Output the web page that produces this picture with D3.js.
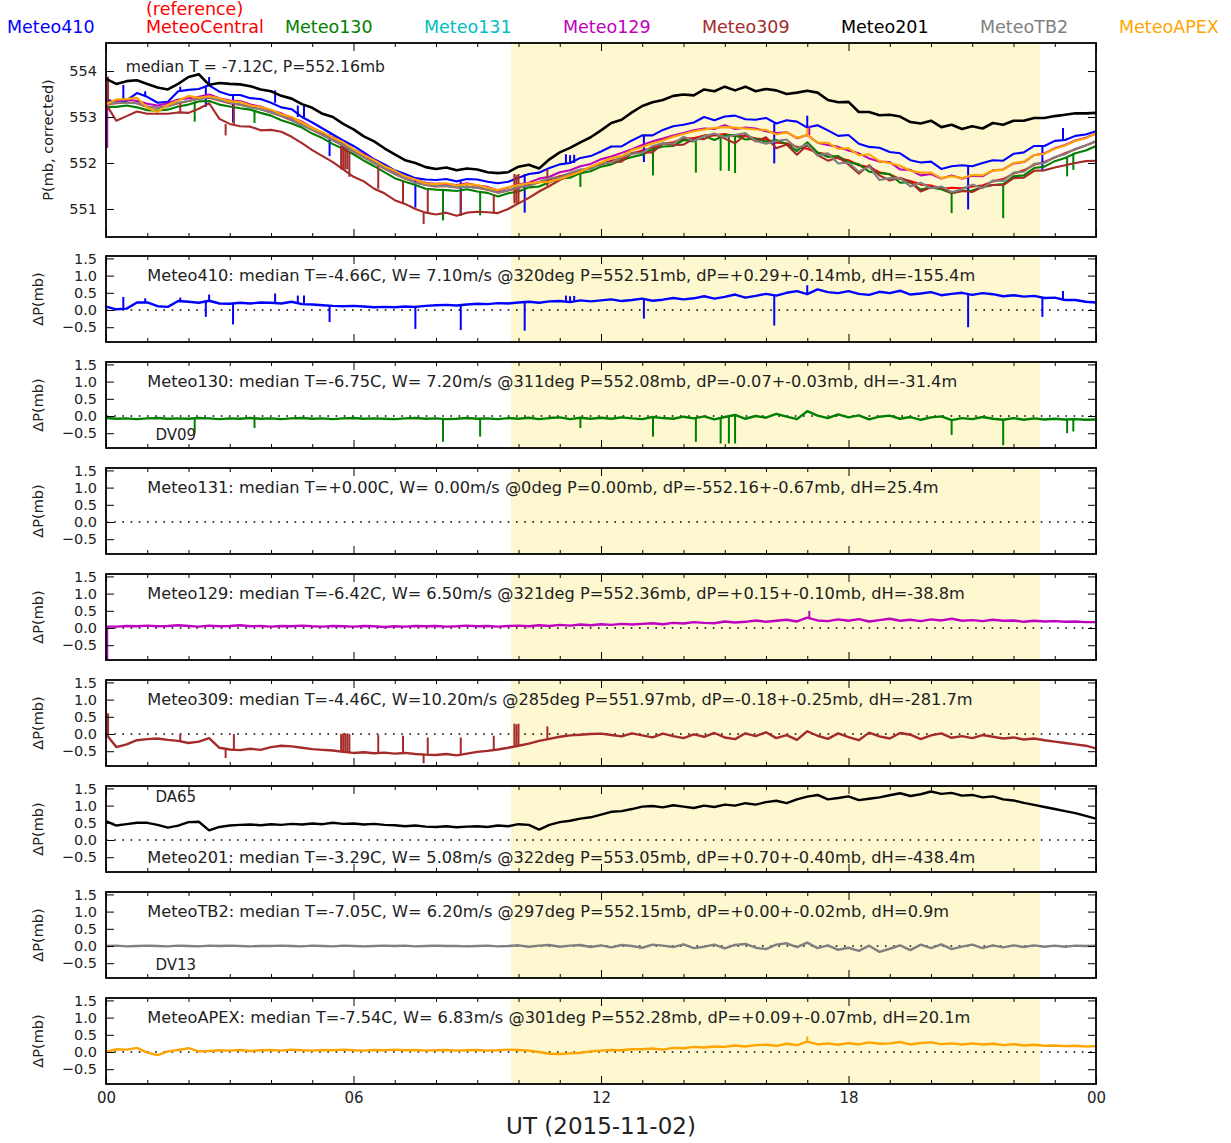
<!DOCTYPE html>
<html>
<head>
<meta charset="utf-8">
<script src="https://cdn.jsdelivr.net/npm/d3@7"></script>
<style>
  body { margin: 0; background: #fff; }
  text { font-family: "DejaVu Sans", sans-serif; }
</style>
</head>
<body>
<svg id="chart" width="1231" height="1143"></svg>
<script>
// ---- sampling: one value every 15 minutes, 00 UT to 24 UT ----
const STEP_MIN = 15;

// MeteoCentral reference pressure (mb, corrected)
const central = [
  553.28, 553.30, 553.32, 553.30,  553.22, 553.20, 553.24, 553.30,
  553.35, 553.40, 553.42, 553.36,  553.30, 553.27, 553.22, 553.17,
  553.10, 553.02, 552.93, 552.83,  552.72, 552.61, 552.50, 552.38,
  552.25, 552.13, 552.00, 551.88,  551.76, 551.66, 551.58, 551.52,
  551.49, 551.50, 551.47, 551.49,  551.46, 551.42, 551.36, 551.40,
  551.46, 551.52, 551.58, 551.64,  551.71, 551.77, 551.83, 551.90,
  551.97, 552.05, 552.10, 552.20,  552.27, 552.33, 552.42, 552.45,
  552.52, 552.54, 552.60, 552.60,  552.63, 552.58, 552.59, 552.53,
  552.51, 552.44, 552.43, 552.35,  552.31, 552.22, 552.19, 552.10,
  552.06, 551.95, 551.91, 551.80,  551.75, 551.65, 551.61, 551.53,
  551.51, 551.44, 551.46, 551.45,  551.49, 551.51, 551.60, 551.65,
  551.77, 551.84, 551.96, 552.02,  552.12, 552.21, 552.30, 552.38,
  552.47
];

// pressure differences to the reference (mb)
const d410 = [
  0.10, 0.02, 0.04, 0.22,  0.22, 0.11, 0.09, 0.26,  0.24, 0.21, 0.27, 0.19,
  0.18, 0.21, 0.19, 0.22,  0.21, 0.19, 0.24, 0.17,  0.16, 0.14, 0.12, 0.11,
  0.12, 0.10, 0.08, 0.09,  0.08, 0.10, 0.09, 0.12,  0.14, 0.15, 0.13, 0.16,
  0.18, 0.17, 0.20, 0.19,  0.22, 0.24, 0.21, 0.25,  0.26, 0.23, 0.28, 0.25,
  0.28, 0.31, 0.26, 0.29,  0.33, 0.27, 0.30, 0.35,  0.31, 0.34, 0.40, 0.33,
  0.38, 0.45, 0.36, 0.41,  0.47, 0.42, 0.50, 0.55,  0.46, 0.60, 0.52, 0.49,
  0.55, 0.47, 0.44, 0.53,  0.49, 0.56, 0.45, 0.48,  0.52, 0.43, 0.47, 0.50,
  0.44, 0.49, 0.46, 0.40,  0.43, 0.39, 0.41, 0.35,  0.36, 0.29, 0.29, 0.24,
  0.22
];
const d130 = [
  -0.06, -0.08, -0.07, -0.09,  -0.07, -0.06, -0.08, -0.07,  -0.08, -0.06, -0.07, -0.09,
  -0.07, -0.08, -0.06, -0.08,  -0.07, -0.09, -0.07, -0.06,  -0.08, -0.07, -0.09, -0.07,
  -0.06, -0.08, -0.07, -0.08,  -0.09, -0.07, -0.06, -0.08,  -0.07, -0.09, -0.08, -0.06,
  -0.08, -0.07, -0.09, -0.06,  -0.08, -0.05, -0.09, -0.06,  -0.04, -0.09, -0.05, -0.08,
  -0.05, -0.08, -0.04, -0.07,  -0.09, -0.03, -0.06, -0.08,  -0.02, -0.07, -0.01, -0.10,
  -0.03,  0.03, -0.08,  0.00,  -0.05,  0.06, -0.02, -0.09,   0.14,  0.01, -0.06,  0.05,
  -0.04,  0.02, -0.10, -0.02,   0.01, -0.08, -0.03, -0.11,  -0.04, -0.01, -0.12, -0.06,
  -0.09, -0.03, -0.08, -0.11,  -0.06, -0.11, -0.07, -0.10,  -0.08, -0.10, -0.09, -0.11,
  -0.10
];
const d129 = [
  0.04, 0.04, 0.06, 0.05,  0.07, 0.05, 0.06, 0.08,  0.06, 0.04, 0.07, 0.05,
  0.06, 0.08, 0.05, 0.06,  0.04, 0.06, 0.05, 0.07,  0.05, 0.04, 0.06, 0.05,
  0.04, 0.06, 0.05, 0.03,  0.05, 0.04, 0.06, 0.05,  0.06, 0.04, 0.05, 0.07,
  0.05, 0.06, 0.04, 0.06,  0.07, 0.05, 0.08, 0.06,  0.09, 0.07, 0.10, 0.08,
  0.11, 0.09, 0.12, 0.10,  0.12, 0.14, 0.11, 0.15,  0.13, 0.17, 0.15, 0.14,
  0.19, 0.16, 0.18, 0.22,  0.18, 0.21, 0.24, 0.19,  0.30, 0.22, 0.20, 0.25,
  0.21, 0.26, 0.19, 0.23,  0.27, 0.21, 0.24, 0.20,  0.25, 0.22, 0.27, 0.21,
  0.23, 0.20, 0.24, 0.21,  0.22, 0.18, 0.21, 0.19,  0.20, 0.18, 0.19, 0.17,
  0.17
];
const d309 = [
   0.00, -0.38, -0.30, -0.18,  -0.15, -0.13, -0.17, -0.20,  -0.26, -0.22, -0.12, -0.40,
  -0.45, -0.47, -0.43, -0.46,  -0.38, -0.34, -0.36, -0.40,  -0.44, -0.46, -0.48, -0.52,
  -0.55, -0.53, -0.56, -0.54,  -0.57, -0.55, -0.58, -0.60,  -0.61, -0.58, -0.62, -0.57,
  -0.52, -0.49, -0.45, -0.40,  -0.34, -0.28, -0.20, -0.14,  -0.08, -0.04, -0.02,  0.00,
   0.01, -0.03, -0.07,  0.02,  -0.04, -0.10,  0.01, -0.06,  -0.12, -0.01, -0.08,  0.03,
  -0.10, -0.15,  0.02, -0.06,   0.05, -0.12, -0.03, -0.17,   0.08, -0.05, -0.14,  0.02,
  -0.09, -0.18,  0.04, -0.07,  -0.13,  0.03, -0.02, -0.15,  -0.04,  0.02, -0.11, -0.06,
  -0.12, -0.03, -0.08, -0.13,  -0.10, -0.16, -0.13, -0.18,  -0.22, -0.26, -0.30, -0.34,
  -0.42
];
const d201 = [
  0.55, 0.42, 0.46, 0.50,  0.50, 0.44, 0.36, 0.42,  0.52, 0.53, 0.28, 0.38,
  0.42, 0.44, 0.45, 0.43,  0.46, 0.44, 0.47, 0.45,  0.48, 0.46, 0.50, 0.47,
  0.48, 0.45, 0.47, 0.44,  0.43, 0.40, 0.42, 0.39,  0.38, 0.40, 0.37, 0.39,
  0.40, 0.38, 0.42, 0.40,  0.46, 0.44, 0.30, 0.44,  0.52, 0.56, 0.62, 0.66,
  0.74, 0.82, 0.84, 0.90,  0.97, 0.99, 0.95, 1.01,  0.97, 0.93, 1.00, 0.96,
  1.03, 1.00, 1.07, 1.03,  1.10, 1.14, 1.07, 1.18,  1.26, 1.31, 1.18, 1.22,
  1.27, 1.16, 1.20, 1.24,  1.30, 1.36, 1.28, 1.33,  1.41, 1.34, 1.37, 1.29,
  1.31, 1.24, 1.27, 1.18,  1.15, 1.08, 1.02, 0.96,  0.90, 0.84, 0.78, 0.70,
  0.62
];
const dTB2 = [
   0.00,  0.01, -0.01,  0.00,   0.01,  0.00, -0.01,  0.01,   0.00, -0.01,  0.01,  0.00,
   0.01,  0.00, -0.01,  0.00,   0.00,  0.01,  0.00, -0.01,   0.01,  0.00, -0.01,  0.01,
   0.00, -0.01,  0.00,  0.01,   0.00,  0.01, -0.01,  0.00,   0.01,  0.00,  0.00, -0.01,
   0.00,  0.01, -0.01,  0.00,   0.02, -0.02,  0.01,  0.03,  -0.02,  0.01,  0.03, -0.03,
   0.02, -0.04,  0.03,  0.00,  -0.05,  0.04,  0.01, -0.03,   0.05, -0.06, -0.02,  0.04,
  -0.07,  0.03,  0.06, -0.05,  -0.09,  0.04,  0.08, -0.03,   0.10, -0.06,  0.02, -0.11,
  -0.05, -0.14,  0.01, -0.17,  -0.08,  0.02, -0.12,  0.04,  -0.06,  0.05, -0.09, -0.02,
   0.04, -0.06,  0.02, -0.04,   0.02, -0.03,  0.02, -0.02,   0.01, -0.02,  0.01,  0.00,
   0.01
];
const dAPEX = [
   0.00,  0.08,  0.07,  0.12,  -0.02, -0.09,  0.02,  0.06,   0.11,  0.02,  0.03,  0.05,
   0.04,  0.06,  0.03,  0.05,   0.06,  0.04,  0.07,  0.05,   0.04,  0.06,  0.05,  0.07,
   0.05,  0.04,  0.06,  0.05,   0.07,  0.05,  0.06,  0.04,   0.05,  0.06,  0.04,  0.05,
   0.06,  0.04,  0.05,  0.07,   0.06,  0.04,  0.00, -0.05,  -0.06, -0.04, -0.02,  0.02,
   0.04,  0.06,  0.05,  0.08,   0.08,  0.10,  0.07,  0.12,   0.11,  0.15,  0.13,  0.16,
   0.15,  0.19,  0.16,  0.20,   0.21,  0.18,  0.24,  0.20,   0.30,  0.22,  0.25,  0.21,
   0.26,  0.22,  0.28,  0.24,   0.25,  0.29,  0.22,  0.26,   0.28,  0.23,  0.25,  0.22,
   0.25,  0.22,  0.24,  0.20,   0.23,  0.19,  0.21,  0.18,   0.19,  0.17,  0.18,  0.16,
   0.17
];

// isolated glitches: [hour, value in mb]
const spk410 = [[0.42,0.38],[0.95,0.34],[1.8,0.36],[2.42,-0.2],[2.5,0.45],[3.08,-0.42],
  [4.1,0.48],[4.65,0.42],[4.8,0.42],[5.42,-0.35],[7.5,-0.55],[8.6,-0.58],[10.15,-0.6],
  [11.15,0.42],[11.25,0.4],[11.35,0.41],[13.04,-0.25],[16.2,-0.45],[17.0,0.72],
  [20.9,-0.5],[22.7,-0.2],[23.2,0.55]];
const spk130 = [[2.15,-0.5],[3.6,-0.35],[8.17,-0.75],[9.07,-0.6],[11.5,-0.35],[13.26,-0.6],
  [14.3,-0.75],[14.9,-0.8],[15.1,-0.8],[15.25,-0.8],[20.5,-0.55],[21.75,-0.85],
  [23.3,-0.5],[23.45,-0.45]];
const spk129 = [[0.03,-0.95],[17.05,0.5]];
const spk309 = [[0.05,0.6],[1.8,0.0],[2.9,-0.7],[3.1,0.0],[5.7,0.0],[5.75,0.02],[5.8,0.0],
  [5.85,0.02],[5.9,0.0],[6.6,-0.02],[7.2,-0.05],[7.7,-0.85],[7.8,-0.1],[8.6,-0.1],
  [9.4,-0.05],[9.9,0.3],[9.95,0.28],[10.0,0.3],[10.7,0.22]];
const spkAPEX = [[17.0,0.45]];

// station labels and annotation lines
const legendNames = ["Meteo410", "MeteoCentral", "Meteo130", "Meteo131", "Meteo129",
                     "Meteo309", "Meteo201", "MeteoTB2", "MeteoAPEX"];
const notes = [
  "Meteo410: median T=-4.66C, W= 7.10m/s @320deg P=552.51mb, dP=+0.29+-0.14mb, dH=-155.4m",
  "Meteo130: median T=-6.75C, W= 7.20m/s @311deg P=552.08mb, dP=-0.07+-0.03mb, dH=-31.4m",
  "Meteo131: median T=+0.00C, W= 0.00m/s @0deg P=0.00mb, dP=-552.16+-0.67mb, dH=25.4m",
  "Meteo129: median T=-6.42C, W= 6.50m/s @321deg P=552.36mb, dP=+0.15+-0.10mb, dH=-38.8m",
  "Meteo309: median T=-4.46C, W=10.20m/s @285deg P=551.97mb, dP=-0.18+-0.25mb, dH=-281.7m",
  "Meteo201: median T=-3.29C, W= 5.08m/s @322deg P=553.05mb, dP=+0.70+-0.40mb, dH=-438.4m",
  "MeteoTB2: median T=-7.05C, W= 6.20m/s @297deg P=552.15mb, dP=+0.00+-0.02mb, dH=0.9m",
  "MeteoAPEX: median T=-7.54C, W= 6.83m/s @301deg P=552.28mb, dP=+0.09+-0.07mb, dH=20.1m"
];
const pads = [null, "DV09", null, null, null, "DA65", "DV13", null];
const topNote = "median T = -7.12C, P=552.16mb";
const daylight = [9.82, 22.64];               // shaded UT hours
const xTickLabels = ["00", "06", "12", "18", "00"];
const topTicks = [551, 552, 553, 554];
const deltaTicks = [-0.5, 0.0, 0.5, 1.0, 1.5];

// ---- drawing ----
const colors = {
  "Meteo410": "#0000ff", "MeteoCentral": "#ff0000", "Meteo130": "#008000",
  "Meteo131": "#00bfbf", "Meteo129": "#bf00bf", "Meteo309": "#a52a2a",
  "Meteo201": "#000000", "MeteoTB2": "#808080", "MeteoAPEX": "#ffa500"
};
const series = [
  { name: "Meteo410", d: d410, s: spk410 },
  { name: "Meteo130", d: d130, s: spk130 },
  { name: "Meteo131", d: null, s: [] },
  { name: "Meteo129", d: d129, s: spk129 },
  { name: "Meteo309", d: d309, s: spk309 },
  { name: "Meteo201", d: d201, s: [] },
  { name: "MeteoTB2", d: dTB2, s: [] },
  { name: "MeteoAPEX", d: dAPEX, s: spkAPEX }
];

const svg = d3.select("#chart");
const X0 = 106, X1 = 1096;
const x = d3.scaleLinear().domain([0, 24]).range([X0, X1]);
const hourOf = i => i * STEP_MIN / 60;
const idxOf = h => Math.round(h * 60 / STEP_MIN);
const majorX = [0, 6, 12, 18, 24];
const minorX = d3.range(1, 24).filter(h => h % 6 !== 0);
const defs = svg.append("defs");

function panel(top, bottom, y, yTicks, yFmt, id) {
  const g = svg.append("g");
  g.append("rect").attr("x", X0).attr("y", top).attr("width", X1 - X0)
    .attr("height", bottom - top).attr("fill", "#fff");
  g.append("rect").attr("x", x(daylight[0])).attr("y", top)
    .attr("width", x(daylight[1]) - x(daylight[0])).attr("height", bottom - top)
    .attr("fill", "#fdf8d0");
  defs.append("clipPath").attr("id", id).append("rect")
    .attr("x", X0).attr("y", top).attr("width", X1 - X0).attr("height", bottom - top);
  const plot = g.append("g").attr("clip-path", `url(#${id})`);
  const axes = g.append("g");
  return { g, plot, axes, draw() {
    const tidy = sel => {
      sel.select(".domain").remove();
      sel.attr("font-family", null).attr("font-size", null);
      sel.selectAll("line").attr("stroke", "#000").attr("stroke-width", 1);
    };
    axes.append("g").attr("transform", `translate(${X0},0)`)
      .call(d3.axisLeft(y).tickValues(yTicks).tickSize(-8).tickPadding(9).tickFormat(yFmt))
      .call(tidy).selectAll("text").attr("font-size", 14.5).attr("fill", "#222");
    axes.append("g").attr("transform", `translate(${X1},0)`)
      .call(d3.axisRight(y).tickValues(yTicks).tickSize(-8).tickFormat("")).call(tidy);
    axes.append("g").attr("transform", `translate(0,${top})`)
      .call(d3.axisTop(x).tickValues(majorX).tickSize(-8).tickFormat("")).call(tidy);
    axes.append("g").attr("transform", `translate(0,${top})`)
      .call(d3.axisTop(x).tickValues(minorX).tickSize(-4).tickFormat("")).call(tidy);
    axes.append("g").attr("transform", `translate(0,${bottom})`)
      .call(d3.axisBottom(x).tickValues(minorX).tickSize(-4).tickFormat("")).call(tidy);
    const bx = axes.append("g").attr("transform", `translate(0,${bottom})`)
      .call(d3.axisBottom(x).tickValues(majorX).tickSize(-8).tickPadding(8)
        .tickFormat(id === "clip8" ? (d, i) => xTickLabels[i] : ""))
      .call(tidy);
    bx.selectAll("text").attr("font-size", 15).attr("fill", "#222");
    g.append("rect").attr("x", X0).attr("y", top).attr("width", X1 - X0)
      .attr("height", bottom - top).attr("fill", "none")
      .attr("stroke", "#000").attr("stroke-width", 1.8);
  }};
}

function spikePath(h, from, to, y) {
  return `M${x(h)},${y(from)}L${x(h)},${y(to)}`;
}

// --- top panel: corrected pressure of every station ---
const yTop = d3.scaleLinear().domain([550.39, 554.61]).range([237, 43]);
const P = panel(43, 237, yTop, topTicks, d3.format("d"), "clip0");
const lineTop = d3.line().x((v, i) => x(hourOf(i))).y(v => yTop(v));
P.plot.append("path").attr("d", lineTop(central)).attr("fill", "none")
  .attr("stroke", colors.MeteoCentral).attr("stroke-width", 2.1).attr("stroke-linejoin", "round");
series.forEach(s => {
  if (!s.d) return;
  const vals = central.map((c, i) => c + s.d[i]);
  P.plot.append("path").attr("d", lineTop(vals)).attr("fill", "none")
    .attr("stroke", colors[s.name]).attr("stroke-width", s.name === "Meteo201" ? 2.6 : 2.1)
    .attr("stroke-linejoin", "round");
  s.s.forEach(([h, v]) => {
    const i = idxOf(h);
    P.plot.append("path").attr("d", spikePath(h, central[i] + s.d[i], central[i] + v, yTop))
      .attr("stroke", colors[s.name]).attr("stroke-width", 2);
  });
});
P.draw();
svg.append("text").attr("x", x(0.48)).attr("y", yTop(554.09)).attr("dy", "0.35em")
  .attr("font-size", 15.6).attr("fill", "#222").text(topNote);
svg.append("text").attr("transform", `translate(53,${(43 + 237) / 2}) rotate(-90)`)
  .attr("text-anchor", "middle").attr("font-size", 14.5).attr("fill", "#222")
  .text("P(mb, corrected)");

// --- difference panels ---
const minusFmt = d => (d < 0 ? "\u2212" : "") + d3.format(".1f")(Math.abs(d));
series.forEach((s, k) => {
  const top = 256 + 106 * k, bottom = top + 86;
  const y = d3.scaleLinear().domain([-0.93, 1.57]).range([bottom, top]);
  const p = panel(top, bottom, y, deltaTicks, minusFmt, "clip" + (k + 1));
  p.plot.append("line").attr("x1", X0).attr("x2", X1).attr("y1", y(0)).attr("y2", y(0))
    .attr("stroke", "#000").attr("stroke-width", 1.6).attr("stroke-dasharray", "1.6,6.6");
  if (s.d) {
    const line = d3.line().x((v, i) => x(hourOf(i))).y(v => y(v));
    p.plot.append("path").attr("d", line(s.d)).attr("fill", "none")
      .attr("stroke", colors[s.name]).attr("stroke-width", 2.4).attr("stroke-linejoin", "round");
    s.s.forEach(([h, v]) => {
      p.plot.append("path").attr("d", spikePath(h, s.d[idxOf(h)], v, y))
        .attr("stroke", colors[s.name]).attr("stroke-width", 2);
    });
  }
  p.draw();
  svg.append("text").attr("x", x(1.0)).attr("y", y(s.name === "Meteo201" ? -0.5 : 1.0))
    .attr("dy", "0.35em").attr("font-size", 16.2).attr("fill", "#222").text(notes[k]);
  if (pads[k]) {
    svg.append("text").attr("x", x(1.2)).attr("y", y(pads[k] === "DA65" ? 1.25 : -0.55))
      .attr("dy", "0.35em").attr("font-size", 15).attr("fill", "#222").text(pads[k]);
  }
  svg.append("text").attr("transform", `translate(43,${(top + bottom) / 2}) rotate(-90)`)
    .attr("text-anchor", "middle").attr("font-size", 14.5).attr("fill", "#222")
    .text("\u0394P(mb)");
});

// --- legend row and time label ---
legendNames.forEach((n, i) => {
  svg.append("text").attr("x", 7 + 139 * i).attr("y", 33).attr("font-size", 17.5)
    .attr("fill", colors[n]).text(n);
});
svg.append("text").attr("x", 7 + 139).attr("y", 15).attr("font-size", 17.5)
  .attr("fill", colors.MeteoCentral).text("(reference)");
svg.append("text").attr("x", x(12)).attr("y", 1134).attr("text-anchor", "middle")
  .attr("font-size", 23).attr("fill", "#222").text("UT (2015-11-02)");
</script>
</body>
</html>
